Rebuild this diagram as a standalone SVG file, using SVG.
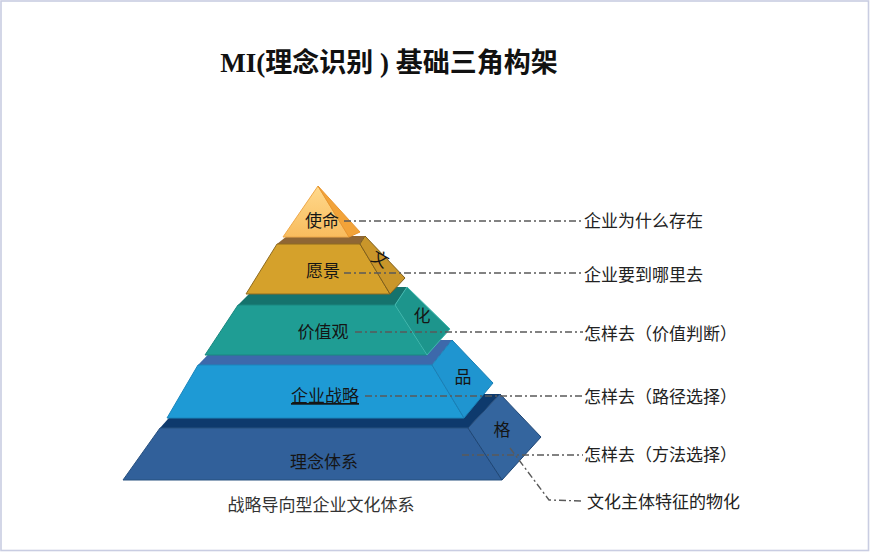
<svg xmlns="http://www.w3.org/2000/svg" width="870" height="552" viewBox="0 0 870 552">
<defs>
<linearGradient id="g1" x1="0" y1="0" x2="0" y2="1">
<stop offset="0" stop-color="#FFD98C"/>
<stop offset="1" stop-color="#F8BC5E"/>
</linearGradient>
<style>
.lbl{font-family:"Noto Sans CJK SC","Noto Sans",sans-serif;font-size:17px;fill:#151515;text-anchor:middle}
.rt{font-family:"Noto Sans CJK SC","Noto Sans",sans-serif;font-size:17px;fill:#222}
.dash{fill:none;stroke:#5a5a5a;stroke-width:1.4;stroke-dasharray:7 3 2 3}
.edge{stroke-width:1;stroke-linejoin:round}
</style>
</defs>
<rect x="1" y="1" width="867.5" height="549.5" fill="#FFFFFF" stroke="#C9CDE2" stroke-width="1.6"/>
<text x="389" y="72" text-anchor="middle" font-family="'Liberation Serif','Noto Sans CJK SC',serif" font-weight="bold" font-size="27" fill="#111">MI(理念识别 ) 基础三角构架</text>

<g id="layer5">
<polygon points="160,428 468,428 500,394 190,394" fill="#0E3A6D"/>
<polygon class="edge" points="160,428 468,428 502,480 123,480" fill="#31609A" stroke="#27507F"/>
<polygon class="edge" points="468,428 500,394 541,437 502,480" fill="#34659E" stroke="#1F4675"/>
<text class="lbl" x="324" y="468">理念体系</text>
<text class="lbl" x="502" y="436">格</text>
</g>

<g id="layer4">
<polygon points="198,365 432,365 452,340 222,340" fill="#3D69AB"/>
<polygon class="edge" points="198,365 432,365 464,418 167,418" fill="#1E9AD5" stroke="#1A86BD"/>
<polygon class="edge" points="432,365 452,340 493,383 464,418" fill="#1F95D0" stroke="#1A7FB5"/>
<text class="lbl" x="325" y="402" text-decoration="underline">企业战略</text>
<text class="lbl" x="463" y="383">品</text>
</g>

<g id="layer3">
<polygon points="238,305 395,305 407,287 256,287" fill="#15736D"/>
<polygon class="edge" points="238,305 395,305 427,355 205,355" fill="#1F9D94" stroke="#1A8880"/>
<polygon class="edge" points="395,305 407,287 450,329 427,355" fill="#1D958C" stroke="#3FB8AE"/>
<text class="lbl" x="323" y="338">价值观</text>
<text class="lbl" x="422" y="322">化</text>
</g>

<g id="layer2">
<polygon points="277,244 360,244 365,236 287,236" fill="#8F6634"/>
<polygon class="edge" points="277,244 360,244 390,294 246,294" fill="#D5A12B" stroke="#8E6B20"/>
<polygon class="edge" points="360,244 365,236 405,278 390,294" fill="#C9962A" stroke="#7E5E1C"/>
<text class="lbl" x="323" y="277">愿景</text>
<text class="lbl" transform="translate(380,259) rotate(30)" x="0" y="6">文</text>
</g>

<g id="layer1">
<polygon class="edge" points="318,186 283,237 349,237" fill="url(#g1)" stroke="#EFA94A"/>
<polygon class="edge" points="318,186 349,237 360,232" fill="#F2A339" stroke="#E9962E"/>
<text class="lbl" x="322" y="227">使命</text>
</g>

<g id="connectors">
<line class="dash" x1="344" y1="221" x2="583" y2="221"/>
<line class="dash" x1="344" y1="273" x2="583" y2="273"/>
<line class="dash" x1="355" y1="332" x2="583" y2="332"/>
<line class="dash" x1="365" y1="396" x2="583" y2="396"/>
<line class="dash" x1="462" y1="455" x2="583" y2="455"/>
<polyline class="dash" points="510,448 549,500 582,501"/>
</g>

<g id="labels">
<text class="rt" x="584" y="227">企业为什么存在</text>
<text class="rt" x="584" y="281">企业要到哪里去</text>
<text class="rt" x="584" y="340">怎样去（价值判断）</text>
<text class="rt" x="584" y="403">怎样去（路径选择）</text>
<text class="rt" x="584" y="461">怎样去（方法选择）</text>
<text class="rt" x="587" y="508">文化主体特征的物化</text>
<text x="321" y="511" text-anchor="middle" font-family="'Noto Sans CJK SC',sans-serif" font-size="17" fill="#333">战略导向型企业文化体系</text>
</g>
</svg>
